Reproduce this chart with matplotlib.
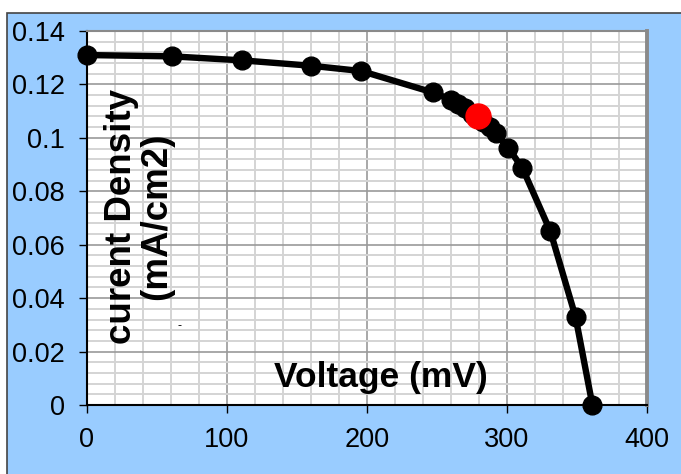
import numpy as np
import matplotlib
matplotlib.use('Agg')
import matplotlib.pyplot as plt
from matplotlib.patches import Rectangle
from matplotlib.ticker import MultipleLocator, FixedLocator

plt.rcParams['font.family'] = ['Liberation Sans', 'DejaVu Sans']

# I-V curve
voltage = [0, 61, 111, 160, 196, 247, 260, 265, 270, 275, 283, 288, 292, 301, 311, 331, 349, 361]
current = [0.131, 0.1305, 0.129, 0.127, 0.125, 0.117, 0.1143, 0.1128, 0.111, 0.109,
           0.106, 0.104, 0.1018, 0.0962, 0.0887, 0.065, 0.0329, 0.0]
mpp_v = [279]
mpp_j = [0.108]

xticks = [0, 100, 200, 300, 400]
yticks = [0, 0.02, 0.04, 0.06, 0.08, 0.1, 0.12, 0.14]
ylabels = ['0', '0.02', '0.04', '0.06', '0.08', '0.1', '0.12', '0.14']

BLUE = '#99ccff'
W, H = 681, 474

fig = plt.figure(figsize=(W / 100, H / 100), dpi=100)
fig.patch.set_facecolor('white')
fig.patches.append(Rectangle((7 / W, -0.01), 1.0, (H - 12.5) / H + 0.01,
                             transform=fig.transFigure, facecolor=BLUE,
                             edgecolor='#444444', linewidth=1.2, zorder=-5))

ax = fig.add_axes([87 / W, (H - 405) / H, 560 / W, 374 / H])
ax.set_facecolor('white')

ax.plot(voltage, current, color='black', linewidth=4.6, marker='o',
        markersize=13.5, markerfacecolor='black', markeredgecolor='black',
        zorder=3, clip_on=False)
ax.plot(mpp_v, mpp_j, 'o', color='#ff0000', markersize=18, zorder=4)

ax.set_xlim(0, 400)
ax.set_ylim(0, 0.14)
ax.xaxis.set_major_locator(FixedLocator(xticks))
ax.yaxis.set_major_locator(FixedLocator(yticks))
ax.set_yticklabels(ylabels)
ax.xaxis.set_minor_locator(MultipleLocator(20))
ax.yaxis.set_minor_locator(MultipleLocator(0.004))

ax.grid(which='minor', color='#d4d4d4', linewidth=1.4, zorder=0)
ax.grid(which='major', color='#9a9a9a', linewidth=1.2, zorder=1)
ax.set_axisbelow(True)

ax.tick_params(which='major', direction='out', length=6, width=1, color='black',
               labelsize=19.5, pad=10, top=False, right=False)
ax.tick_params(which='minor', length=0)

for side in ['left', 'bottom']:
    ax.spines[side].set_color('black')
    ax.spines[side].set_linewidth(1.5)
for side in ['top', 'right']:
    ax.spines[side].set_color('#8a8a8a')
ax.spines['top'].set_linewidth(1.5)
ax.spines['right'].set_linewidth(2.8)

ax.text(210, 0.0102, 'Voltage (mV)', fontsize=25.5, fontweight='bold',
        ha='center', va='center', zorder=5)
ax.text(37, 0.0705, 'curent Density\n(mA/cm2)', fontsize=26.5, fontweight='bold',
        rotation=90, ha='center', va='center', linespacing=1.0, zorder=5)
ax.text(66, 0.0297, '-', fontsize=9, ha='center', va='center', zorder=5)

fig.savefig('out.png', dpi=100, facecolor=fig.get_facecolor())
